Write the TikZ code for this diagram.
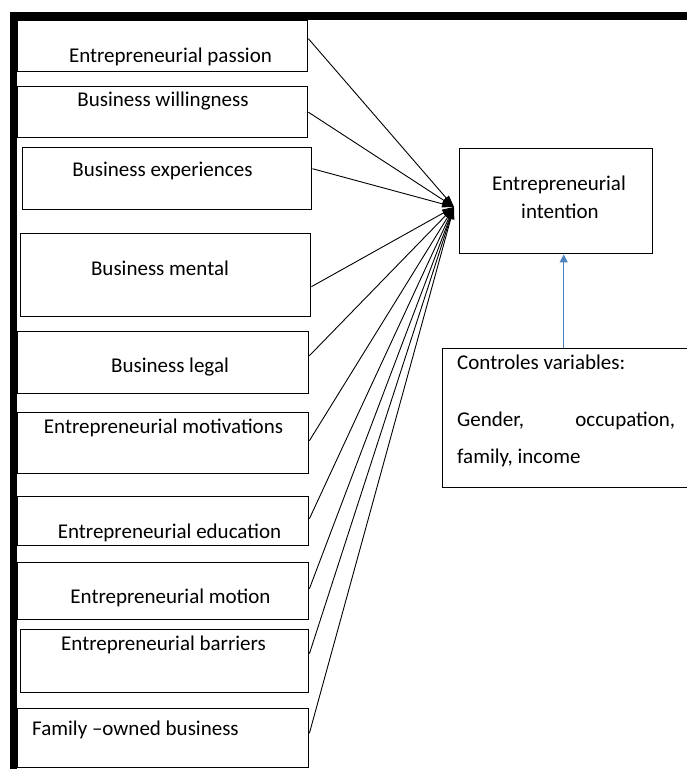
\documentclass[tikz,border=0pt]{standalone}
\usepackage{fontspec}
\setmainfont{Carlito}
\usepackage{xcolor}
\usetikzlibrary{positioning}
\usetikzlibrary{arrows.meta}
\definecolor{ctrlblue}{HTML}{4F81BD}
\tikzset{varbox/.style={draw, line width=1.4pt, anchor=north west, inner sep=0pt},
vartext/.style={font=\fontsize{21}{25}\selectfont, inner sep=0pt, anchor=base}}

\begin{document}
\begin{tikzpicture}[x=1pt, y=-1pt, link/.style={-{Triangle[length=12pt, width=7pt]}, line width=0.9pt},
	ctrl/.style={-{Triangle[length=8pt, width=8pt]}, ctrlblue, line width=1.3pt}]
					\clip (0,0) rectangle (687,769);
					\draw[line width=7.5pt] (13.5,775) -- (13.5,16) -- (695,16);
					\node[varbox, minimum width=290pt, minimum height=51pt] (pas) at (17,20) {};
					\node[varbox, minimum width=290pt, minimum height=51pt] (wil) at (17,86) {};
					\node[varbox, minimum width=289pt, minimum height=62pt] (exp) at (22,147) {};
					\node[varbox, minimum width=290pt, minimum height=83pt] (men) at (20,233) {};
					\node[varbox, minimum width=291pt, minimum height=62pt] (leg) at (17,331) {};
					\node[varbox, minimum width=291pt, minimum height=61pt] (mot) at (17,412) {};
					\node[varbox, minimum width=291pt, minimum height=49pt] (edu) at (17,496) {};
					\node[varbox, minimum width=291pt, minimum height=57pt] (moti) at (17,562) {};
					\node[varbox, minimum width=288pt, minimum height=63pt] (bar) at (20,629) {};
					\node[varbox, minimum width=291pt, minimum height=59pt] (fam) at (17,708) {};
					\node[vartext] (pasT) at (170.5,62) {Entrepreneurial passion};
					\node[vartext] (wilT) at (163,106) {Business willingness};
					\node[vartext] (expT) at (162.5,176) {Business experiences};
					\node[vartext] (menT) at (160,275) {Business mental};
					\node[vartext] (legT) at (170,372) {Business legal};
					\node[vartext] (motT) at (163.5,433) {Entrepreneurial motivations};
					\node[vartext] (eduT) at (169.5,538) {Entrepreneurial education};
					\node[vartext] (motiT) at (170.5,603) {Entrepreneurial motion};
					\node[vartext] (barT) at (163.5,650) {Entrepreneurial barriers};
					\node[vartext] (famT) at (135.5,735) {Family \textendash owned business};
					\node[varbox, minimum width=193pt, minimum height=105pt] (int) at (459,148) {};
					\node[vartext] (int1) at (559,190) {Entrepreneurial};
					\node[vartext] (int2) at (560,218) {intention};
					\node[varbox, minimum width=260pt, minimum height=139pt] (ctl) at (442,348) {};
					\node[vartext, anchor=base west] (ctl1) at (457,369) {Controles variables:};
					\node[vartext, anchor=base west, text width=218pt] (ctl2) at (457,426) {Gender,\hfill occupation,};
					\node[vartext, anchor=base west] (ctl3) at (457,463) {family, income};
					\coordinate (hub) at (454,207);
					\draw[link] ([yshift=7.5pt]pas.east) -- (hub);
					\draw[link] (wil.east) -- (hub);
					\draw[link] ([yshift=10pt]exp.east) -- (hub);
					\draw[link] ([yshift=-11.5pt]men.east) -- (hub);
					\draw[link] ([yshift=7pt]leg.east) -- (hub);
					\draw[link] ([yshift=2.5pt]mot.east) -- (hub);
					\draw[link] ([yshift=2.5pt]edu.east) -- (hub);
					\draw[link] ([yshift=2.5pt]moti.east) -- (hub);
					\draw[link] ([yshift=7.5pt]bar.east) -- (hub);
					\draw[link] ([yshift=5pt]fam.east) -- (hub);
					\draw[ctrl] ([xshift=7.5pt]int.south |- ctl.north) -- ([xshift=7.5pt]int.south);
			\end{tikzpicture}
\end{document}
